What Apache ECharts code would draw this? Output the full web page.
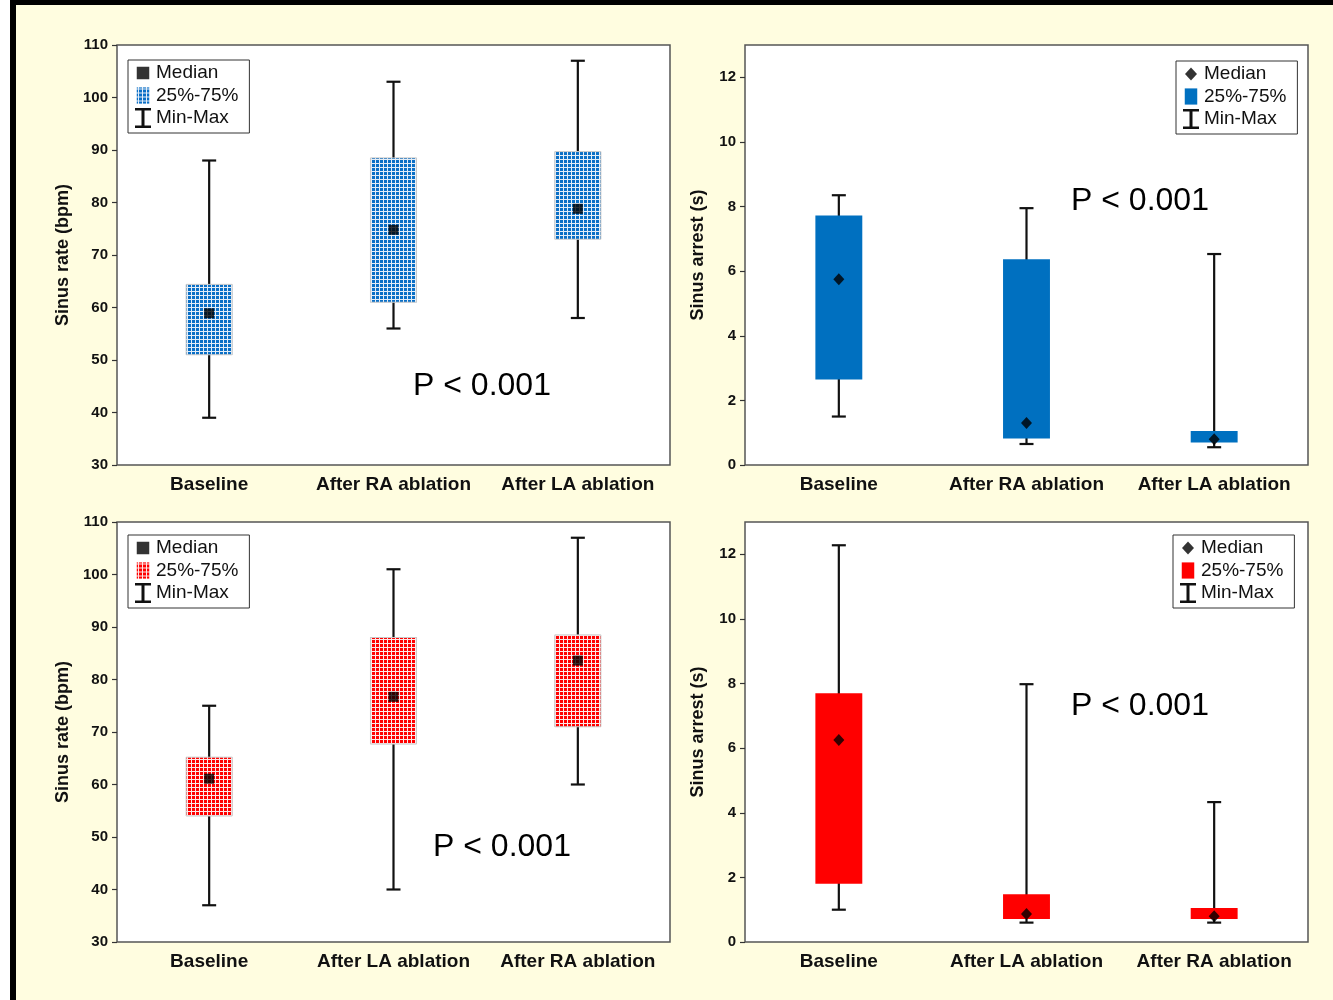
<!DOCTYPE html>
<html>
<head>
<meta charset="utf-8">
<script src="https://cdn.jsdelivr.net/npm/echarts@6/dist/echarts.min.js"></script>
<style>
  html, body { margin: 0; padding: 0; background: #ffffff; }
  #frame { position: absolute; left: 10px; top: 0; width: 1317px; height: 995px;
           border-left: 6px solid #000; border-top: 5px solid #000; background: #FFFDE0; }
  #chart { position: absolute; left: 0; top: 0; width: 1333px; height: 1000px; }
</style>
</head>
<body>
<div id="frame"></div>
<div id="chart"></div>
<script>
// ---------- DATA ----------
const rateACats = ['Baseline', 'After RA ablation', 'After LA ablation'];
const rateAMin = [39, 56, 58];
const rateAQ1 = [51, 61, 73];
const rateAMed = [58.9, 74.8, 78.8];
const rateAQ3 = [64.4, 88.5, 89.7];
const rateAMax = [88, 103, 107];

const arrestACats = ['Baseline', 'After RA ablation', 'After LA ablation'];
const arrestAMin = [1.5, 0.65, 0.55];
const arrestAQ1 = [2.65, 0.82, 0.7];
const arrestAMed = [5.75, 1.3, 0.8];
const arrestAQ3 = [7.72, 6.37, 1.05];
const arrestAMax = [8.35, 7.95, 6.53];

const rateBCats = ['Baseline', 'After LA ablation', 'After RA ablation'];
const rateBMin = [37, 40, 60];
const rateBQ1 = [54, 67.7, 71];
const rateBMed = [61.1, 76.7, 83.6];
const rateBQ3 = [65.2, 88, 88.5];
const rateBMax = [75, 101, 107];

const arrestBCats = ['Baseline', 'After LA ablation', 'After RA ablation'];
const arrestBMin = [1.0, 0.6, 0.6];
const arrestBQ1 = [1.8, 0.71, 0.71];
const arrestBMed = [6.25, 0.87, 0.8];
const arrestBQ3 = [7.7, 1.48, 1.05];
const arrestBMax = [12.28, 7.98, 4.33];

const rateTicks = { min: 30, max: 110, interval: 10 };
const arrestTicks = { min: 0, max: 13, interval: 2 };

const pText = 'P < 0.001';

// ---------- STYLE ----------
const FONT = '"Liberation Sans", Arial, sans-serif';
const BLUE = '#0070C0';
const RED = '#FF0000';

function makePattern(color, line) {
  const c = document.createElement('canvas');
  c.width = 4; c.height = 4;
  const g = c.getContext('2d');
  g.fillStyle = line; g.fillRect(0, 0, 4, 4);
  g.fillStyle = color; g.fillRect(0, 0, 3, 3);
  return { image: c, repeat: 'repeat' };
}
const bluePat = makePattern('#0a6fc6', '#e4eef8');
const redPat = makePattern('#ff0000', '#fde8e8');

const ICON_SQ = 'path://M0 0M16 20M1.75 3.75H14.25V16.25H1.75Z';
const ICON_DIA = 'path://M0 0M16 20M8 3.5L14 10L8 16.5L2 10Z';
const ICON_BOX = 'path://M0 0M16 20M1.75 1.9H14.25V18.1H1.75Z';
const ICON_I = 'path://M0 0H16V2.5H9.5V17.5H16V20H0V17.5H6.5V2.5H0Z';

function whiskerItem(params, api) {
  const x = api.value(0);
  const lo = api.coord([x, api.value(1)]);
  const hi = api.coord([x, api.value(2)]);
  const cap = 7;
  const st = { stroke: '#111', lineWidth: 2.2 };
  return { type: 'group', children: [
    { type: 'line', shape: { x1: lo[0], y1: lo[1], x2: hi[0], y2: hi[1] }, style: st },
    { type: 'line', shape: { x1: lo[0] - cap, y1: lo[1], x2: lo[0] + cap, y2: lo[1] }, style: st },
    { type: 'line', shape: { x1: hi[0] - cap, y1: hi[1], x2: hi[0] + cap, y2: hi[1] }, style: st }
  ]};
}
function boxItemFactory(fill, stroke) {
  return function (params, api) {
    const x = api.value(0);
    const lo = api.coord([x, api.value(1)]);
    const hi = api.coord([x, api.value(2)]);
    const w = api.size([1, 0])[0] * 0.25;
    return { type: 'rect',
      shape: { x: lo[0] - w / 2, y: hi[1], width: w, height: lo[1] - hi[1] },
      style: { fill: fill, stroke: stroke, lineWidth: stroke ? 1 : 0 } };
  };
}

const grids = [
  { left: 117, top: 45, width: 553, height: 420 },
  { left: 745, top: 45, width: 563, height: 420 },
  { left: 117, top: 522, width: 553, height: 420 },
  { left: 745, top: 522, width: 563, height: 420 }
];
const panels = [
  { cats: rateACats, min: rateAMin, q1: rateAQ1, med: rateAMed, q3: rateAQ3, max: rateAMax,
    ticks: rateTicks, name: 'Sinus rate (bpm)', fill: bluePat, stroke: '#c9c9c9', medIcon: ICON_SQ,
    medSymbol: 'rect', medSize: 10, legend: { left: 128, top: 60 }, p: [482, 386], key: 'a' },
  { cats: arrestACats, min: arrestAMin, q1: arrestAQ1, med: arrestAMed, q3: arrestAQ3, max: arrestAMax,
    ticks: arrestTicks, name: 'Sinus arrest (s)', fill: BLUE, stroke: null, medIcon: ICON_DIA,
    medSymbol: 'diamond', medSize: [11, 12], legend: { left: 1176, top: 61 }, p: [1140, 201], key: 'b' },
  { cats: rateBCats, min: rateBMin, q1: rateBQ1, med: rateBMed, q3: rateBQ3, max: rateBMax,
    ticks: rateTicks, name: 'Sinus rate (bpm)', fill: redPat, stroke: '#c9c9c9', medIcon: ICON_SQ,
    medSymbol: 'rect', medSize: 10, legend: { left: 128, top: 535 }, p: [502, 847], key: 'c' },
  { cats: arrestBCats, min: arrestBMin, q1: arrestBQ1, med: arrestBMed, q3: arrestBQ3, max: arrestBMax,
    ticks: arrestTicks, name: 'Sinus arrest (s)', fill: RED, stroke: null, medIcon: ICON_DIA,
    medSymbol: 'diamond', medSize: [11, 12], legend: { left: 1173, top: 535 }, p: [1140, 706], key: 'd' }
];

const option = {
  animation: false,
  backgroundColor: 'transparent',
  grid: grids.map(g => Object.assign({ show: true, backgroundColor: '#fff', borderColor: '#555', borderWidth: 1.5 }, g)),
  xAxis: panels.map((p, i) => ({
    type: 'category', gridIndex: i, data: p.cats,
    axisLine: { show: false }, axisTick: { show: false }, splitLine: { show: false },
    axisLabel: { interval: 0, color: '#111', fontFamily: FONT, fontWeight: 'bold', fontSize: 19, margin: 10 }
  })),
  yAxis: panels.map((p, i) => ({
    type: 'value', gridIndex: i, min: p.ticks.min, max: p.ticks.max, interval: p.ticks.interval,
    name: p.name, nameLocation: 'middle', nameGap: i % 2 === 0 ? 45 : 38, nameRotate: 90,
    nameTextStyle: { color: '#111', fontFamily: FONT, fontWeight: 'bold', fontSize: 18 },
    axisLine: { show: false }, splitLine: { show: false },
    axisTick: { show: true, inside: false, length: 5, lineStyle: { color: '#333', width: 1.2 } },
    axisLabel: { color: '#111', fontFamily: FONT, fontWeight: 'bold', fontSize: 15, margin: 9,
                 showMaxLabel: i % 2 === 0 }
  })),
  legend: panels.map(p => ({
    left: p.legend.left, top: p.legend.top, orient: 'vertical',
    backgroundColor: '#fff', borderColor: '#333', borderWidth: 1, borderRadius: 0,
    padding: [3, 11, 5, 7], itemGap: 2.5, itemWidth: 16, itemHeight: 20,
    selectedMode: false,
    textStyle: { color: '#111', fontFamily: FONT, fontSize: 19, lineHeight: 19 },
    formatter: n => n.split('|')[0],
    data: [
      { name: 'Median|' + p.key, icon: p.medIcon },
      { name: '25%-75%|' + p.key, icon: ICON_BOX },
      { name: 'Min-Max|' + p.key, icon: ICON_I }
    ]
  })),
  graphic: panels.map(p => ({
    type: 'text', x: p.p[0], y: p.p[1], z: 100,
    style: { text: pText, fill: '#000', font: '32px ' + FONT, textAlign: 'center', textVerticalAlign: 'middle' }
  })),
  series: []
};

panels.forEach((p, i) => {
  option.series.push({
    type: 'custom', name: 'Min-Max|' + p.key, xAxisIndex: i, yAxisIndex: i, z: 2,
    itemStyle: { color: '#111' },
    encode: { x: 0, y: [1, 2] },
    renderItem: whiskerItem,
    data: p.cats.map((c, k) => [k, p.min[k], p.max[k]])
  });
  option.series.push({
    type: 'custom', name: '25%-75%|' + p.key, xAxisIndex: i, yAxisIndex: i, z: 3,
    itemStyle: { color: p.fill },
    encode: { x: 0, y: [1, 2] },
    renderItem: boxItemFactory(p.fill, p.stroke),
    data: p.cats.map((c, k) => [k, p.q1[k], p.q3[k]])
  });
  option.series.push({
    type: 'scatter', name: 'Median|' + p.key, xAxisIndex: i, yAxisIndex: i, z: 4,
    symbol: p.medSymbol, symbolSize: p.medSize,
    itemStyle: { color: '#000' },
    data: p.cats.map((c, k) => [k, p.med[k]])
  });
});

const chart = echarts.init(document.getElementById('chart'), null, { renderer: 'canvas' });
chart.setOption(option);
</script>
</body>
</html>
